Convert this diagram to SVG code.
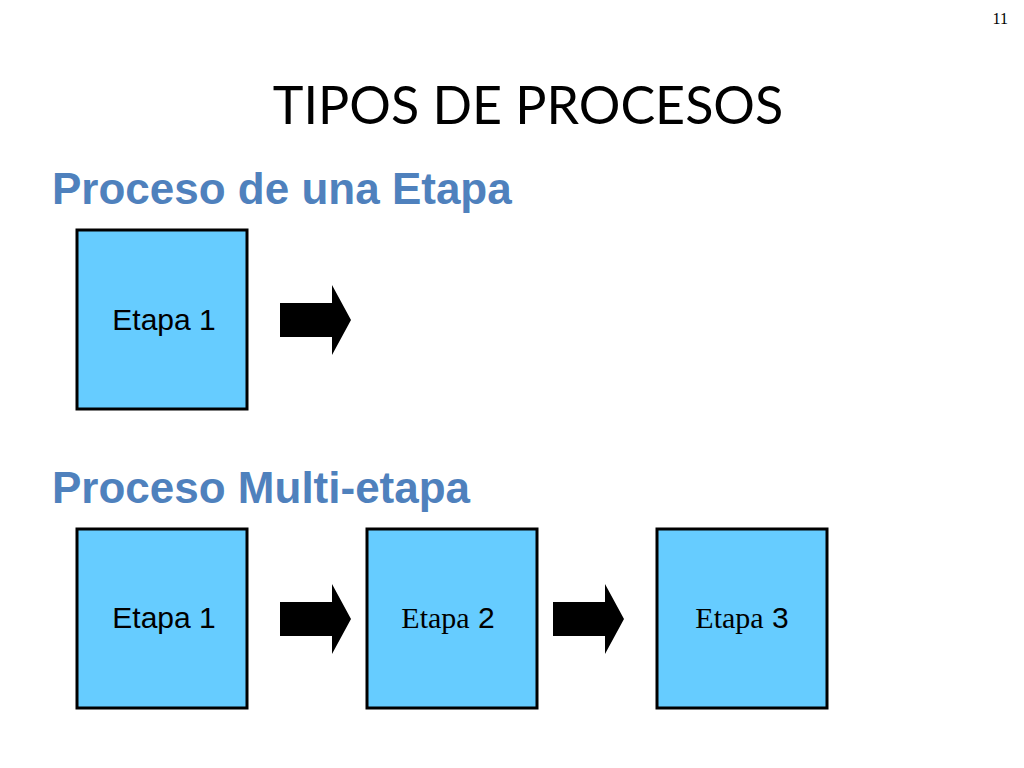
<svg xmlns="http://www.w3.org/2000/svg" width="1024" height="768" viewBox="0 0 1024 768">
<style>
.box{fill:#66ccff;stroke:#000;stroke-width:3}
.lbl{font-family:"Liberation Sans",Arial,sans-serif;font-size:30px;fill:#000}
.ser{font-family:"Liberation Serif","Times New Roman",serif}
.hd{font-family:"Liberation Sans",Arial,sans-serif;font-weight:bold;font-size:44px;fill:#4f81bd}
.arr{fill:#000}
</style>
<rect width="1024" height="768" fill="#fff"/>
<text x="1008" y="24" font-family="Liberation Serif,serif" font-size="16" text-anchor="end">11</text>
<text x="528" y="124" font-family="Lato,'Open Sans',sans-serif" font-size="52" text-anchor="middle">TIPOS DE PROCESOS</text>
<text class="hd" x="52" y="204">Proceso de una Etapa</text>
<text class="hd" x="52" y="503">Proceso Multi-etapa</text>
<g id="n1"><rect class="box" x="77" y="230" width="170" height="179"/><text class="lbl" x="164" y="330" text-anchor="middle">Etapa 1</text></g>
<g id="n2"><rect class="box" x="77" y="529" width="170" height="179"/><text class="lbl" x="164" y="628" text-anchor="middle">Etapa 1</text></g>
<g id="n3"><rect class="box" x="367" y="529" width="170" height="179"/><text class="lbl" x="448" y="628" text-anchor="middle"><tspan class="ser">Etapa</tspan> 2</text></g>
<g id="n4"><rect class="box" x="657" y="529" width="170" height="179"/><text class="lbl" x="742" y="628" text-anchor="middle"><tspan class="ser">Etapa</tspan> 3</text></g>
<g id="connectors">
<polygon class="arr" points="280,303 332,303 332,285 351,320 332,355 332,337 280,337"/>
<polygon class="arr" points="280,602 332,602 332,584 351,619 332,654 332,636 280,636"/>
<polygon class="arr" points="553,602 605,602 605,584 624,619 605,654 605,636 553,636"/>
</g>
</svg>
